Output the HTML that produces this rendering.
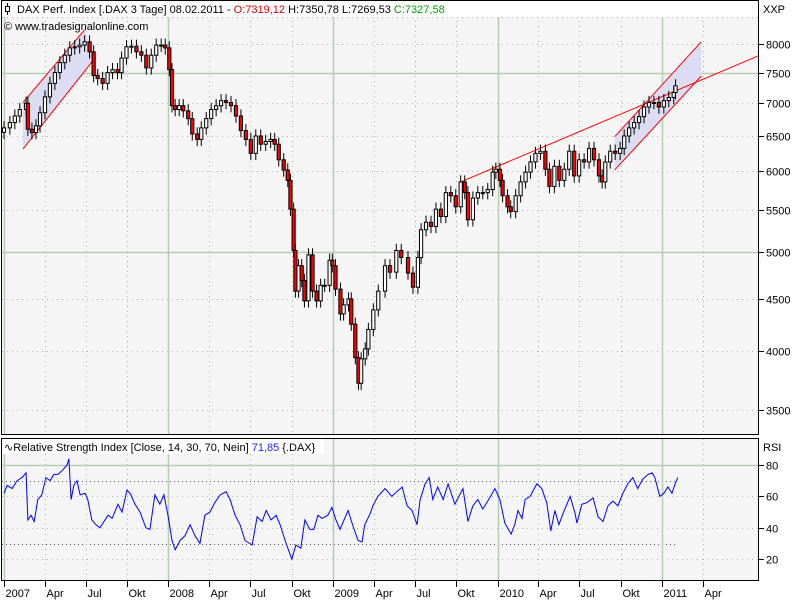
<!DOCTYPE html>
<html><head><meta charset="utf-8"><style>
html,body{margin:0;padding:0;background:#fff;}
svg{display:block;font-family:"Liberation Sans",sans-serif;}
</style></head><body>
<svg id="chart" width="800" height="600" viewBox="0 0 800 600" xmlns="http://www.w3.org/2000/svg">
<rect x="0" y="0" width="800" height="600" fill="#fff"/>
<rect x="1.5" y="0.5" width="757" height="434" fill="#f5f5f5" stroke="#000"/>
<rect x="1.5" y="438.5" width="757" height="142" fill="#f5f5f5" stroke="#000"/>
<g id="grid"></g>
<g id="annot"></g>
<g id="candles"></g>
<g id="rsi"></g>
<g id="axes"></g>
<rect x="2" y="1" width="756" height="16" fill="#fff"/>
<g stroke="#000" fill="none"><line x1="7.5" y1="3" x2="7.5" y2="15"/><rect x="5.5" y="6.5" width="4" height="5" fill="#fff"/></g>
<text x="17" y="13" font-size="11" fill="#000">DAX Perf. Index [.DAX  3 Tage] 08.02.2011 - <tspan fill="#e00000">O:7319,12</tspan> H:7350,78 L:7269,53 <tspan fill="#00a000">C:7327,58</tspan></text>
<text x="4" y="30" font-size="11" fill="#000">© www.tradesignalonline.com</text>
<rect x="2" y="439" width="322" height="15" fill="#fff"/>
<text x="4" y="451" font-size="11" fill="#000">∿Relative Strength Index [Close, 14, 30, 70, Nein] <tspan fill="#2020ff">71,85</tspan> {.DAX}</text>
<text x="763" y="13" font-size="11" fill="#000">XXP</text>
<text x="763" y="451" font-size="11" fill="#000">RSI</text>
</svg>
<script>
// ---- data ----
const priceDays = [0,13,24,35,49,53,62,71,80,91,102,113,124,135,146,157,168,179,190,199,208,219,230,241,252,261,272,283,294,305,316,327,338,349,358,367,373,380,389,398,409,418,429,438,449,460,471,482,493,504,515,526,537,548,559,570,581,592,601,610,621,630,636,643,647,654,661,667,676,685,694,703,712,723,729,736,747,754,765,771,780,787,793,802,809,820,831,846,857,871,882,897,908,919,926,937,948,959,970,981,992,1003,1014,1023,1030,1041,1052,1063,1074,1085,1092,1101,1107,1118,1125,1136,1147,1158,1169,1180,1191,1202,1211,1222,1233,1244,1255,1266,1277,1288,1299,1310,1321,1328,1335,1346,1357,1368,1377,1388,1399,1410,1421,1432,1443,1454,1465,1476,1487,1491];
const closes = [6620,6700,6800,6900,7000,6600,6550,6650,6850,7100,7320,7500,7670,7800,7930,7950,7980,8040,7860,7450,7400,7320,7500,7550,7500,7750,7950,7960,7860,7800,7580,7800,7980,7980,7930,7550,6960,6900,6960,6880,6760,6530,6450,6620,6760,6900,6960,7040,7010,6960,6800,6580,6450,6250,6500,6380,6420,6450,6380,6160,6020,5880,5510,5020,4580,4850,4690,4480,4970,4580,4480,4640,4640,4910,4850,4600,4350,4440,4500,4250,3940,3720,3930,4020,4200,4390,4580,4850,4780,5020,4940,4770,4620,4940,5260,5350,5300,5510,5420,5720,5680,5540,5860,5720,5380,5650,5720,5720,5760,5990,6030,5880,5680,5540,5480,5680,5860,5990,6130,6250,6280,6030,5800,6070,5880,6030,6280,5940,6160,6130,6320,6160,5940,5860,6130,6280,6250,6320,6500,6620,6700,6790,6940,7010,7010,6940,7040,7090,7170,7280];
const rsiDays = [0,7,18,29,40,49,53,60,67,75,84,93,102,111,120,131,140,144,149,155,162,169,180,186,195,204,213,222,231,240,253,262,273,280,291,302,315,324,335,346,355,364,373,380,391,402,413,424,435,446,457,468,480,493,502,513,524,535,551,562,573,582,593,604,613,624,639,648,659,668,679,688,697,706,719,728,737,746,764,775,786,795,801,813,819,830,846,861,872,884,895,906,917,924,935,944,952,963,975,986,1001,1019,1030,1041,1052,1063,1074,1090,1101,1112,1126,1134,1141,1150,1157,1168,1183,1194,1205,1214,1223,1232,1241,1257,1268,1272,1283,1294,1308,1319,1330,1341,1352,1363,1374,1385,1396,1407,1418,1430,1439,1445,1456,1465,1474,1483,1490,1496];
const rsiValues = [62,67,65,70,72,75,45,48,44,58,61,72,70,74,74,77,80,84,58,67,70,61,62,58,45,42,40,44,48,46,55,50,64,62,55,50,40,39,61,55,61,48,32,26,32,35,42,35,30,48,50,56,61,63,58,48,42,32,29,47,44,51,45,48,42,32,20,29,27,45,39,39,48,46,48,53,45,39,51,41,32,31,42,49,54,60,65,60,63,66,54,51,42,58,68,72,58,66,58,68,55,65,44,54,58,52,57,65,58,43,36,42,51,46,58,60,68,65,56,38,51,42,49,60,49,43,55,56,59,47,44,54,57,54,62,68,72,65,71,74,75,72,60,62,66,62,68,72];
const priceTicks = [8000,7500,7000,6500,6000,5500,5000,4500,4000,3500];
const priceGridExtra = [8500];
const priceSolid = [7500,5000];
const rsiTicks = [80,60,40,20];
const rsiBands = [70,30];
const monthTickDays = [0,90,181,273,365,456,547,639,731,821,912,1004,1096,1186,1277,1369,1461,1551];
const monthTickLabels = ["2007","Apr","Jul","Okt","2008","Apr","Jul","Okt","2009","Apr","Jul","Okt","2010","Apr","Jul","Okt","2011","Apr"];
const channel1 = [[42,7010],[179,8260],[202,7750],[42,6310]];
const channel2 = [[1356,6490],[1548,8040],[1548,7440],[1356,6020]];
const trendLine = [[1014,5860],[1675,7790]];

// ---- scales ----
const NS = "http://www.w3.org/2000/svg";
const xS = d => 4 + d * 0.4504;
const yP = p => 44 + 443 * Math.log(8000 / p);
const yR = v => 465 + (80 - v) * 1.57;
function mk(tag, attrs, parent){ const e=document.createElementNS(NS,tag); for(const k in attrs) e.setAttribute(k,attrs[k]); parent.appendChild(e); return e; }
const grid=document.getElementById('grid'), annot=document.getElementById('annot'), cg=document.getElementById('candles'), rg=document.getElementById('rsi'), ax=document.getElementById('axes');

priceTicks.concat(priceGridExtra).forEach(p=>{
  const y=Math.round(yP(p))+0.5; const solid=priceSolid.includes(p);
  const l=mk('line',{x1:2,x2:758,y1:y,y2:y,stroke:solid?'#b4cdb4':'#a8b4a8','stroke-width':solid?1.5:1,'stroke-dasharray':solid?'':'1 4'},grid);
  
  
});
rsiTicks.forEach(v=>{
  const y=Math.round(yR(v))+0.5; const solid=v===80;
  const l=mk('line',{x1:2,x2:758,y1:y,y2:y,stroke:solid?'#b4cdb4':'#a8b4a8','stroke-width':solid?1.5:1,'stroke-dasharray':solid?'':'1 4'},grid);
  
  
});
rsiBands.forEach(v=>{
  const y=Math.round(yR(v))+0.5;
  const l=mk('line',{x1:2,x2:xS(rsiDays[rsiDays.length-1]),y1:y,y2:y,stroke:'#555','stroke-width':1,'stroke-dasharray':'1 3'},grid);
  
  
});
monthTickDays.forEach((d,i)=>{
  const x=Math.round(xS(d))+0.5; const yr=/^\d{4}$/.test(monthTickLabels[i]);
  [[1,434],[439,580]].forEach(r=>{
    const l=mk('line',{x1:x,x2:x,y1:r[0],y2:r[1],stroke:yr?'#b4cdb4':'#a8b4a8','stroke-width':yr?1.5:1,'stroke-dasharray':yr?'':'1 4'},grid);
    
    
  });
  const t=mk('line',{x1:x,x2:x,y1:581,y2:587,stroke:'#000'},ax);
  
  
  const tx=mk('text',{x:x+1,y:597,'font-size':11,fill:'#000'},ax);
  tx.textContent=monthTickLabels[i];
  
  
});
priceTicks.forEach(p=>{
  const y=Math.round(yP(p))+0.5;
  const l=mk('line',{x1:759,x2:764,y1:y,y2:y,stroke:'#000'},ax);
  
  
  const t=mk('text',{x:766,y:y+4,'font-size':11,fill:'#000'},ax);
  t.textContent=p;
  
  
});
rsiTicks.forEach(v=>{
  const y=Math.round(yR(v))+0.5;
  const l=mk('line',{x1:759,x2:764,y1:y,y2:y,stroke:'#000'},ax);
  
  
  const t=mk('text',{x:766,y:y+4,'font-size':11,fill:'#000'},ax);
  t.textContent=v;
  
  
});
function chan(c,name){
  const pts=c.map(q=>xS(q[0])+','+yP(q[1])).join(' ');
  const pg=mk('polygon',{points:pts,fill:'#dcdcf2',stroke:'none'},annot);
  
  
  [[0,1],[3,2]].forEach(ij=>{
    const a=c[ij[0]],b=c[ij[1]];
    const l=mk('line',{x1:xS(a[0]),y1:yP(a[1]),x2:xS(b[0]),y2:yP(b[1]),stroke:'#ff0000','stroke-width':1},annot);
    
    
  });
}
chan(channel1,'channel-2007');
chan(channel2,'channel-2010');
const tl=mk('line',{x1:xS(trendLine[0][0]),y1:yP(trendLine[0][1]),x2:xS(trendLine[1][0]),y2:yP(trendLine[1][1]),stroke:'#ff0000','stroke-width':1},annot);


closes.forEach((c,i)=>{
  const o=i===0?c*0.99:closes[i-1];
  const hi=Math.max(o,c)*1.015, lo=Math.min(o,c)*0.985;
  const x=xS(priceDays[i]);
  const g=mk('g',{},cg);
  
  
  mk('line',{x1:x,x2:x,y1:yP(hi),y2:yP(lo),stroke:'#000','stroke-width':1},g);
  const top=yP(Math.max(o,c)), bot=yP(Math.min(o,c));
  mk('rect',{x:x-1.6,y:top,width:3.2,height:Math.max(1,bot-top),fill:c<o?'#ff0000':'#ffffff',stroke:'#000','stroke-width':1},g);
});
const rp=mk('polyline',{points:rsiDays.map((d,i)=>xS(d)+','+yR(rsiValues[i])).join(' '),fill:'none',stroke:'#0000ff','stroke-width':1},rg);


</script>
</body></html>
